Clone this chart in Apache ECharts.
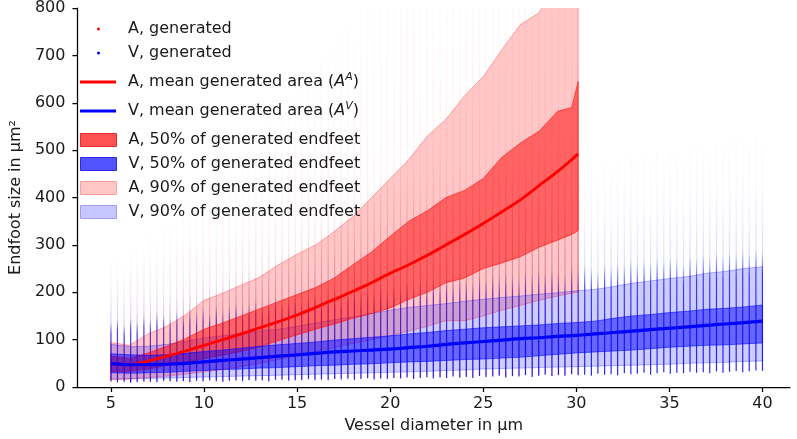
<!DOCTYPE html>
<html><head><meta charset="utf-8">
<script src="https://cdn.jsdelivr.net/npm/echarts@6/dist/echarts.min.js"></script>
<style>html,body{margin:0;padding:0;background:#fff}#c{width:797px;height:439px}</style>
</head><body><div id="c"></div>
<script>
// ---- data ----
const diameters = [5.00,5.35,5.71,6.06,6.41,6.77,7.12,7.47,7.83,8.18,8.54,8.89,9.24,9.60,9.95,10.30,10.66,11.01,11.36,11.72,12.07,12.42,12.78,13.13,13.48,13.84,14.19,14.55,14.90,15.25,15.61,15.96,16.31,16.67,17.02,17.37,17.73,18.08,18.43,18.79,19.14,19.49,19.85,20.20,20.56,20.91,21.26,21.62,21.97,22.32,22.68,23.03,23.38,23.74,24.09,24.44,24.80,25.15,25.51,25.86,26.21,26.57,26.92,27.27,27.63,27.98,28.33,28.69,29.04,29.39,29.75,30.10,30.45,30.81,31.16,31.52,31.87,32.22,32.58,32.93,33.28,33.64,33.99,34.34,34.70,35.05,35.40,35.76,36.11,36.46,36.82,37.17,37.53,37.88,38.23,38.59,38.94,39.29,39.65,40.00];

// extent of generated endfeet per diameter column (A: first 72 columns)
const aColLo = [10,9,11,10,12,10,11,13,12,11,12,13,11,14,12,13,15,12,14,13,15,14,16,13,15,17,14,16,15,18,16,17,15,18,17,19,16,18,20,17,19,18,21,19,20,22,18,21,20,23,21,22,24,20,23,22,25,23,24,26,22,25,24,27,25,26,28,24,27,26,29,27];
const aColHi = [260,275,250,290,300,285,320,310,335,350,340,375,390,365,410,430,400,455,470,445,500,520,490,545,560,530,590,610,580,640,660,630,690,710,680,740,760,730,790,820,800,850,870,840,900,880,920,860,910,930,890,940,920,960,900,950,970,930,980,960,990,950,1000,970,1010,980,1020,990,1030,1000,1040,1010];
const vColLo = [12,10,11,9,10,12,11,10,13,12,11,12,10,13,12,14,12,11,13,14,12,15,13,14,12,15,16,13,14,15,17,14,16,15,17,16,18,15,17,19,16,18,17,19,18,20,17,19,21,18,20,19,22,20,21,19,23,21,22,24,20,23,22,25,21,24,26,23,25,24,27,25,26,24,28,26,27,25,29,27,28,30,26,29,31,28,30,29,32,30,31,29,33,30,32,34,31,33,35,34];
const vColHi = [250,265,240,270,255,280,262,290,275,268,295,282,305,290,310,285,320,300,315,330,305,325,340,318,335,350,328,345,360,338,355,370,348,365,380,358,375,390,368,385,372,395,380,400,388,410,395,415,402,420,408,425,412,430,418,405,435,422,440,428,445,432,420,450,438,455,442,460,448,430,465,452,470,458,440,475,462,480,468,490,472,485,478,495,482,500,488,470,505,492,510,498,515,502,520,508,525,512,530,518];

// arterial (A) statistics
const bandXA = [5,6,7,8,9,10,11,12,13,14,15,16,17,18,19,20,21,22,23,24,25,26,27,28,29,29.75,30.1];
const aMean = [50,47,55,65,76,88,100,112,125,138,152,168,185,202,220,240,258,278,300,322,345,370,395,425,455,480,492];
const aP25  = [32,33,38,45,52,60,67,75,85,98,110,122,133,145,155,167,185,200,220,230,250,262,275,295,310,322,330];
const aP75  = [65,60,72,86,102,122,135,150,165,180,195,210,230,258,285,318,350,372,400,415,440,485,515,540,582,590,645];
const aP05  = [15,17,20,23,27,32,37,43,50,58,66,75,83,92,100,108,118,128,140,140,150,162,172,183,192,198,200];
const aP95  = [94,88,112,128,152,183,198,215,232,258,280,300,328,360,400,440,480,530,565,615,655,712,765,790,860,870,880];

// venous (V) statistics
const bandXV = [5,6,7,8,9,10,11,12,13,14,15,16,17,18,19,20,21,22,23,24,25,26,27,28,29,30,31,32,33,34,35,36,37,38,39,40];
const vMean = [50,47,47,48,50,53,56,59,62,65,68,71,74,76,78,80,83,86,90,93,96,99,102,104,107,109,112,115,118,121,124,127,130,133,136,139];
const vP25  = [30,29,30,31,33,35,37,38,40,41,43,45,46,48,49,51,53,54,56,58,59,61,63,66,69,72,74,76,78,81,84,86,88,89,91,93];
const vP75  = [70,68,67,68,71,75,78,82,86,89,92,95,99,102,105,108,112,115,119,122,125,127,129,131,134,136,139,145,150,153,157,160,164,166,169,173];
const vP05  = [17,17,18,19,20,21,22,23,24,25,26,27,28,29,30,31,32,33,35,36,38,39,40,41,42,43,44,45,46,47,48,50,51,52,54,55];
const vP95  = [90,85,86,90,96,104,108,113,118,122,128,135,142,148,155,162,168,172,176,181,185,189,192,196,199,203,206,212,219,224,229,233,240,244,250,254];

const xTicks = [5,10,15,20,25,30,35,40];
const names = {
  aGen: 'A, generated', vGen: 'V, generated',
  aMean: 'A, mean generated area', vMean: 'V, mean generated area',
  a50: 'A, 50% of generated endfeet', v50: 'V, 50% of generated endfeet',
  a90: 'A, 90% of generated endfeet', v90: 'V, 90% of generated endfeet'
};

// ---- chart ----
const FONT = 'DejaVu Sans';
const FS = 16;
const chart = echarts.init(document.getElementById('c'), null, {renderer: 'canvas'});

function columnSeries(name, n, lo, hi, stops, z) {
  const data = [];
  for (let i = 0; i < n; i++) data.push([diameters[i], lo[i], hi[i]]);
  return {
    type: 'custom', name, data, clip: true, silent: true, z,
    encode: {x: 0, y: [1, 2]},
    itemStyle: {color: stops[0].color},
    renderItem: (params, api) => {
      const x = api.value(0);
      const p1 = api.coord([x, api.value(1)]);
      const p2 = api.coord([x, api.value(2)]);
      return {
        type: 'line',
        shape: {x1: p1[0], y1: p1[1], x2: p2[0], y2: p2[1]},
        style: {stroke: new echarts.graphic.LinearGradient(p1[0], p1[1], p2[0], p2[1], stops, true), lineWidth: 1.2}
      };
    }
  };
}

function bandSeries(name, xs, lo, hi, fill, edge, z) {
  return {
    type: 'custom', name, clip: true, silent: true, z,
    data: [[xs[0], lo[0]]], encode: {x: 0, y: 1},
    itemStyle: {color: fill},
    renderItem: (params, api) => {
      const pts = [];
      for (let i = 0; i < xs.length; i++) pts.push(api.coord([xs[i], hi[i]]));
      for (let i = xs.length - 1; i >= 0; i--) pts.push(api.coord([xs[i], lo[i]]));
      return {type: 'polygon', shape: {points: pts}, style: {fill, stroke: edge, lineWidth: 1}};
    }
  };
}

function lineSeries(name, xs, ys, color, width, z) {
  return {
    type: 'line', name, z, silent: true, showSymbol: false, symbol: 'none', smooth: 0.4,
    data: xs.map((x, i) => [x, ys[i]]),
    lineStyle: {color, width}, itemStyle: {color}
  };
}

const blueStops = [
  {offset: 0, color: 'rgba(0,0,255,0.85)'},
  {offset: 0.42, color: 'rgba(0,0,255,0.7)'},
  {offset: 0.52, color: 'rgba(0,0,255,0.14)'},
  {offset: 0.75, color: 'rgba(0,0,255,0.04)'},
  {offset: 1, color: 'rgba(0,0,255,0.01)'}
];
const redStops = [
  {offset: 0, color: 'rgba(255,0,0,0.3)'},
  {offset: 0.35, color: 'rgba(255,0,0,0.18)'},
  {offset: 0.5, color: 'rgba(255,0,0,0.06)'},
  {offset: 1, color: 'rgba(255,0,0,0.015)'}
];

const series = [
  columnSeries(names.aGen, 72, aColLo, aColHi, redStops, 1),
  columnSeries(names.vGen, 100, vColLo, vColHi, blueStops, 2),
  bandSeries(names.a90, bandXA, aP05, aP95, 'rgba(255,0,0,0.22)', 'rgba(255,0,0,0.3)', 3),
  bandSeries(names.v90, bandXV, vP05, vP95, 'rgba(0,0,255,0.2)', 'rgba(0,0,255,0.28)', 3),
  bandSeries(names.a50, bandXA, aP25, aP75, 'rgba(255,0,0,0.5)', 'rgba(255,0,0,0.55)', 4),
  bandSeries(names.v50, bandXV, vP25, vP75, 'rgba(0,0,255,0.5)', 'rgba(0,0,255,0.55)', 4),
  lineSeries(names.aMean, bandXA, aMean, '#ff0000', 2.8, 5),
  lineSeries(names.vMean, bandXV, vMean, '#0000ff', 3.2, 5)
];

const baseText = {fontFamily: FONT, fontSize: FS, color: '#1a1a1a', lineHeight: 20};
const rich = {
  t: {fontFamily: FONT, fontSize: FS, color: '#1a1a1a', lineHeight: 20},
  i: {fontFamily: FONT, fontSize: FS, color: '#1a1a1a', fontStyle: 'italic', lineHeight: 20},
  s: {fontFamily: FONT, fontSize: 11, color: '#1a1a1a', fontStyle: 'italic', lineHeight: 13, verticalAlign: 'top'}
};
const legendRows = [
  {name: names.aGen, y: 29, left: 97, w: 3, icon: 'circle', h: 3, pad: 23, style: {color: '#ff0000'}},
  {name: names.vGen, y: 53, left: 97, w: 3, icon: 'circle', h: 3, pad: 23, style: {color: '#0000ff'}},
  {name: names.aMean, y: 82, left: 80, w: 36, icon: 'rect', h: 3, pad: 7, style: {color: '#ff0000'}, fmt: '{t|A, mean generated area (}{i|A}{s|A}{t|)}'},
  {name: names.vMean, y: 111, left: 80, w: 36, icon: 'rect', h: 3, pad: 7, style: {color: '#0000ff'}, fmt: '{t|V, mean generated area (}{i|A}{s|V}{t|)}'},
  {name: names.a50, y: 140, left: 80, w: 36, icon: 'rect', h: 13, pad: 7, style: {color: 'rgba(255,0,0,0.68)', borderColor: 'rgba(230,0,0,0.75)', borderWidth: 1}},
  {name: names.v50, y: 164, left: 80, w: 36, icon: 'rect', h: 13, pad: 7, style: {color: 'rgba(0,0,255,0.68)', borderColor: 'rgba(0,0,230,0.75)', borderWidth: 1}},
  {name: names.a90, y: 188, left: 80, w: 36, icon: 'rect', h: 13, pad: 7, style: {color: 'rgba(255,0,0,0.22)', borderColor: 'rgba(255,0,0,0.3)', borderWidth: 1}},
  {name: names.v90, y: 212, left: 80, w: 36, icon: 'rect', h: 13, pad: 7, style: {color: 'rgba(0,0,255,0.22)', borderColor: 'rgba(0,0,255,0.3)', borderWidth: 1}}
];
const legends = legendRows.map(r => ({
  show: true, orient: 'vertical', left: r.left, top: r.y - 10, padding: 0,
  itemWidth: r.w, itemHeight: r.h, selectedMode: false,
  data: [{name: r.name, icon: r.icon, itemStyle: r.style}],
  formatter: r.fmt ? (() => r.fmt) : (n => n),
  textStyle: Object.assign({}, baseText, {padding: [0, 0, 0, r.pad], rich})
}));

const axisCommon = {
  axisLine: {show: true, lineStyle: {color: '#000', width: 1.25}},
  axisTick: {show: true, length: 5, lineStyle: {color: '#000', width: 1.25}},
  splitLine: {show: false},
  nameTextStyle: {fontFamily: FONT, fontSize: FS, color: '#1a1a1a'}
};

chart.setOption({
  animation: false,
  backgroundColor: '#fff',
  grid: {left: 66, right: 7, top: 7, bottom: 51, containLabel: false},
  legend: legends,
  xAxis: Object.assign({}, axisCommon, {
    type: 'value', min: 3.2, max: 41.48,
    name: 'Vessel diameter in µm', nameLocation: 'middle', nameGap: 31,
    axisTick: Object.assign({}, axisCommon.axisTick, {customValues: xTicks}),
    axisLabel: {customValues: xTicks, fontFamily: FONT, fontSize: FS, color: '#1a1a1a', margin: 9}
  }),
  yAxis: Object.assign({}, axisCommon, {
    type: 'value', min: 0, max: 800, interval: 100,
    name: 'Endfoot size in µm²', nameLocation: 'middle', nameGap: 51,
    axisLabel: {fontFamily: FONT, fontSize: FS, color: '#1a1a1a', margin: 12}
  }),
  series
});
</script>
</body></html>
